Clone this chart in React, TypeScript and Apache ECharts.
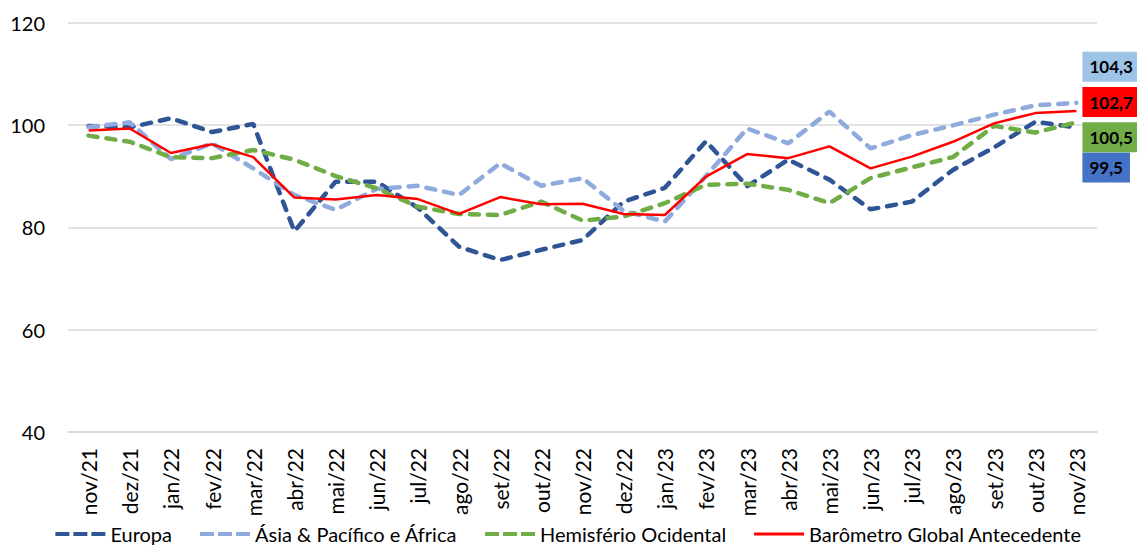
import React, { useEffect, useRef } from "react";
import * as echarts from "echarts";

const categories = [
  "nov/21", "dez/21", "jan/22", "fev/22", "mar/22", "abr/22", "mai/22", "jun/22",
  "jul/22", "ago/22", "set/22", "out/22", "nov/22", "dez/22", "jan/23", "fev/23",
  "mar/23", "abr/23", "mai/23", "jun/23", "jul/23", "ago/23", "set/23", "out/23", "nov/23",
];

const europa = [
  99.8, 99.5, 101.3, 98.6, 100.2, 79.2, 88.9, 88.9, 83.8, 76.2, 73.6, 75.6, 77.5,
  85.0, 87.7, 96.8, 88.0, 93.2, 89.3, 83.5, 85.0, 91.2, 95.6, 100.6, 99.5,
];

const asia = [
  99.6, 100.5, 93.3, 96.4, 91.5, 86.3, 83.4, 87.5, 88.1, 86.3, 92.5, 88.1, 89.6,
  83.2, 81.1, 90.0, 99.3, 96.4, 102.6, 95.4, 98.0, 99.9, 102.0, 103.8, 104.3,
];

const hemisferio = [
  97.9, 96.7, 93.7, 93.5, 95.1, 93.2, 90.0, 87.6, 84.0, 82.6, 82.4, 85.0, 81.3,
  82.1, 84.7, 88.3, 88.5, 87.3, 84.7, 89.6, 91.7, 93.7, 99.8, 98.5, 100.5,
];

const barometro = [
  98.9, 99.3, 94.5, 96.2, 93.7, 85.8, 85.4, 86.3, 85.5, 82.6, 85.9, 84.5, 84.6,
  82.6, 82.4, 89.9, 94.3, 93.5, 95.8, 91.5, 93.8, 96.7, 100.3, 102.3, 102.7,
];

const yTicks = [40, 60, 80, 100, 120];

const FONT = "Lato";
const DASH_ICON = "path://M0,0h14v4h-14z M18,0h14v4h-14z M36,0h14v4h-14z";
const SOLID_ICON = "path://M0,0h50v3h-50z";

function fmt(v: number) {
  return v.toFixed(1).replace(".", ",");
}

export default function App() {
  const ref = useRef<HTMLDivElement>(null);

  useEffect(() => {
    if (!ref.current) return;
    const chart = echarts.init(ref.current, undefined, { renderer: "svg" });

    const endLabel = (color: string, dy: number, textColor = "#000") => ({
      show: true,
      formatter: (p: any) => fmt(p.value as number),
      backgroundColor: color,
      color: textColor,
      fontFamily: FONT,
      fontWeight: "bold",
      fontSize: 17,
      padding: [7, 7, 6, 7],
      distance: 6,
      offset: [0, dy],
    });

    const dashed = (name: string, data: number[], color: string, lblColor: string, dy: number) => ({
      name,
      type: "line",
      data,
      symbol: "none",
      showSymbol: false,
      lineStyle: { color, width: 4.5, type: [9, 9], cap: "round" },
      itemStyle: { color },
      endLabel: endLabel(lblColor, dy),
    });

    chart.setOption({
      animation: false,
      backgroundColor: "#fff",
      grid: { left: 68, right: 40, top: 22.5, bottom: 117, containLabel: false },
      legend: {
        top: 518,
        left: "center",
        itemWidth: 50,
        itemHeight: 4,
        itemGap: 28,
        padding: [5, 5, 0, 5],
        textStyle: { fontFamily: FONT, fontSize: 20, lineHeight: 22, color: "#000" },
        data: [
          { name: "Europa", icon: DASH_ICON },
          { name: "Ásia & Pacífico e África", icon: DASH_ICON },
          { name: "Hemisfério Ocidental", icon: DASH_ICON },
          { name: "Barômetro Global Antecedente", icon: SOLID_ICON },
        ],
      },
      xAxis: {
        type: "category",
        data: categories,
        boundaryGap: true,
        axisLine: { show: true, lineStyle: { color: "#D9D9D9", width: 1.5 } },
        axisTick: { show: false },
        axisLabel: {
          rotate: 90,
          interval: 0,
          margin: 16,
          fontFamily: FONT,
          fontSize: 21,
          color: "#000",
        },
      },
      yAxis: {
        type: "value",
        min: yTicks[0],
        max: yTicks[yTicks.length - 1],
        interval: 20,
        axisLine: { show: false },
        axisTick: { show: false },
        splitLine: { lineStyle: { color: "#D9D9D9", width: 1.5 } },
        axisLabel: { margin: 23, fontFamily: FONT, fontSize: 20, color: "#000" },
      },
      series: [
        dashed("Europa", europa, "#2F5597", "#4472C4", 40),
        dashed("Ásia & Pacífico e África", asia, "#8FAADC", "#9DC3E6", -36),
        dashed("Hemisfério Ocidental", hemisferio, "#70AD47", "#70AD47", 15),
        {
          name: "Barômetro Global Antecedente",
          type: "line",
          data: barometro,
          symbol: "none",
          showSymbol: false,
          lineStyle: { color: "#FF0000", width: 2.5 },
          itemStyle: { color: "#FF0000" },
          endLabel: endLabel("#FF0000", -9),
        },
      ],
    });

    return () => chart.dispose();
  }, []);

  return (
    <div
      ref={ref}
      style={{ position: "fixed", left: 0, top: 0, width: 1137, height: 549 }}
    />
  );
}
